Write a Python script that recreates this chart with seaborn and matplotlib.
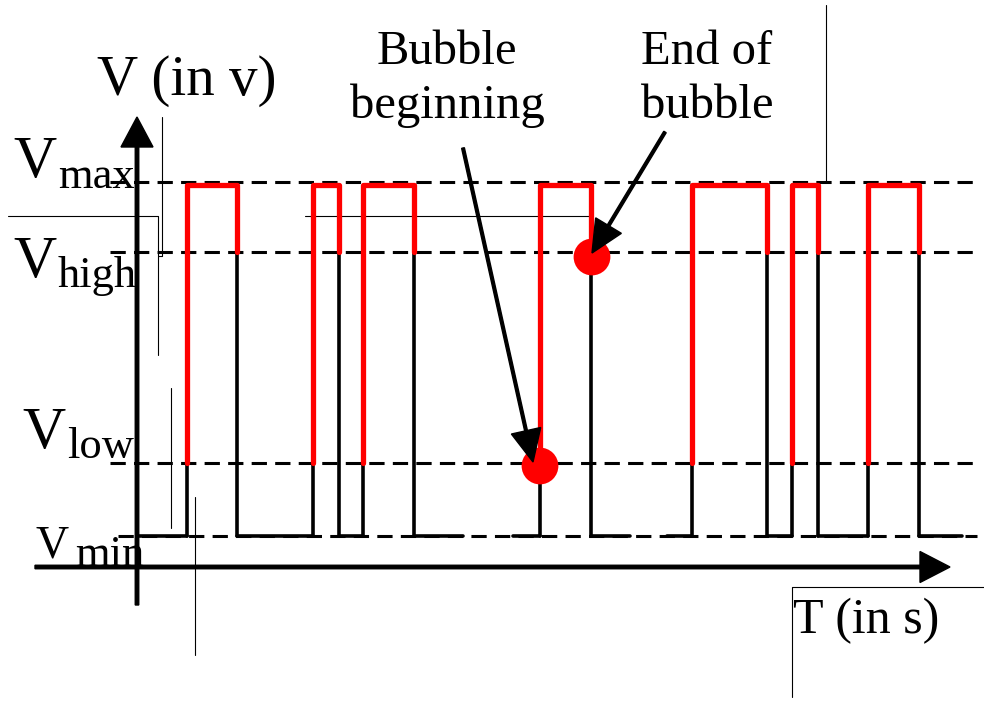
"""
Bubble detection schematic: voltage thresholds and pulse train.
Coordinates are in figure pixels (984 x 702), y grows downward.
"""

import matplotlib
matplotlib.use("Agg")
import matplotlib.pyplot as plt
import numpy as np
import pandas as pd
import seaborn as sns

sns.set_theme(style="white")
plt.rcParams["font.family"] = ["Liberation Serif", "DejaVu Serif"]
plt.rcParams["text.color"] = "black"

# --- data --------------------------------------------------------------
level_names = ["max", "high", "low", "min"]
level_y = [182, 252, 463, 536]          # Vmax, Vhigh, Vlow, Vmin
dash_start = [110, 110, 110, 118]
dash_end = 977

pulse_rise = [187, 313, 363, 540, 692, 792, 868]
pulse_fall = [237, 339, 414, 591, 767, 818, 919]
pulse_top = 185

base_start = [137, 237, 339, 414, 513, 591, 667, 767, 818, 919]
base_end = [187, 313, 363, 463, 540, 630, 692, 792, 868, 962]

bubble_x = [540, 592]
bubble_y = [466, 257]

# leftover guide lines from the original drawing
guide_lines = [
    [(826, 5), (826, 182)],
    [(8, 216), (158, 216), (158, 355)],
    [(162, 117), (162, 256), (158, 256)],
    [(305, 216), (590, 216)],
    [(171, 388), (171, 528)],
    [(195, 497), (195, 655)],
    [(792, 697), (792, 587), (984, 587)],
]

W, H = 984, 702
fig = plt.figure(figsize=(W / 100, H / 100), dpi=100)
ax = fig.add_axes([0, 0, 1, 1])

# threshold dashed lines
for y, x0 in zip(level_y, dash_start):
    ax.plot([x0, dash_end], [y, y], color="black", lw=2.2,
            linestyle=(0, (5, 2.7)), zorder=1)

# thin guide lines
for pts in guide_lines:
    xs, ys = zip(*pts)
    ax.plot(xs, ys, color="black", lw=0.8, zorder=1)

# waveform: black low parts, red high parts
rows = []
seg = 0
for xr, xf in zip(pulse_rise, pulse_fall):
    rows += [(seg, "black", xr, level_y[3]), (seg, "black", xr, level_y[2])]
    seg += 1
    rows += [(seg, "black", xf, level_y[1]), (seg, "black", xf, level_y[3])]
    seg += 1
    rows += [(seg, "red", xr, level_y[2]), (seg, "red", xr, pulse_top),
             (seg, "red", xf, pulse_top), (seg, "red", xf, level_y[1])]
    seg += 1
for x0, x1 in zip(base_start, base_end):
    rows += [(seg, "black", x0, level_y[3]), (seg, "black", x1, level_y[3])]
    seg += 1
wave = pd.DataFrame(rows, columns=["seg", "part", "t", "v"])

sns.lineplot(data=wave[wave.part == "black"], x="t", y="v", units="seg",
             estimator=None, sort=False, color="black", lw=2.6, ax=ax, zorder=3)
sns.lineplot(data=wave[wave.part == "red"], x="t", y="v", units="seg",
             estimator=None, sort=False, color="#ff0000", lw=3.8, ax=ax, zorder=4)

# bubble markers
sns.scatterplot(x=bubble_x, y=bubble_y, color="#ff0000", s=700,
                edgecolor="none", ax=ax, zorder=5)

ax.set_xlim(0, W)
ax.set_ylim(H, 0)
ax.axis("off")

# axes arrows
ax.arrow(137, 605, 0, -488, width=3.5, head_width=32, head_length=30,
         length_includes_head=True, fc="black", ec="black", zorder=6)
ax.arrow(35, 567, 915, 0, width=3.5, head_width=31, head_length=30,
         length_includes_head=True, fc="black", ec="black", zorder=6)

# annotation arrows
ax.arrow(463, 148, 70, 314, width=2.8, head_width=30, head_length=32,
         length_includes_head=True, fc="black", ec="black", zorder=6)
ax.arrow(665, 132, -73, 121, width=2.8, head_width=30, head_length=32,
         length_includes_head=True, fc="black", ec="black", zorder=6)

# texts
big = 43
sub = 32
ax.text(97, 95, "V (in v)", fontsize=41, va="baseline", ha="left")
ax.text(793, 633, "T (in s)", fontsize=36, va="baseline", ha="left")

ax.text(13, 177, "V", fontsize=big, va="baseline")
ax.text(58, 188, "max", fontsize=sub, va="baseline")
ax.text(13, 277, "V", fontsize=big, va="baseline")
ax.text(58, 287, "high", fontsize=sub, va="baseline")
ax.text(22, 448, "V", fontsize=big, va="baseline")
ax.text(67, 458, "low", fontsize=sub, va="baseline")
ax.text(35, 558, "V", fontsize=33, va="baseline")
ax.text(75, 566, "min", fontsize=sub, va="baseline")

ax.text(447, 64, "Bubble", fontsize=35, va="baseline", ha="center")
ax.text(447, 118, "beginning", fontsize=35, va="baseline", ha="center")
ax.text(707, 64, "End of", fontsize=35, va="baseline", ha="center")
ax.text(707, 118, "bubble", fontsize=35, va="baseline", ha="center")

fig.savefig("out.png", dpi=100)
